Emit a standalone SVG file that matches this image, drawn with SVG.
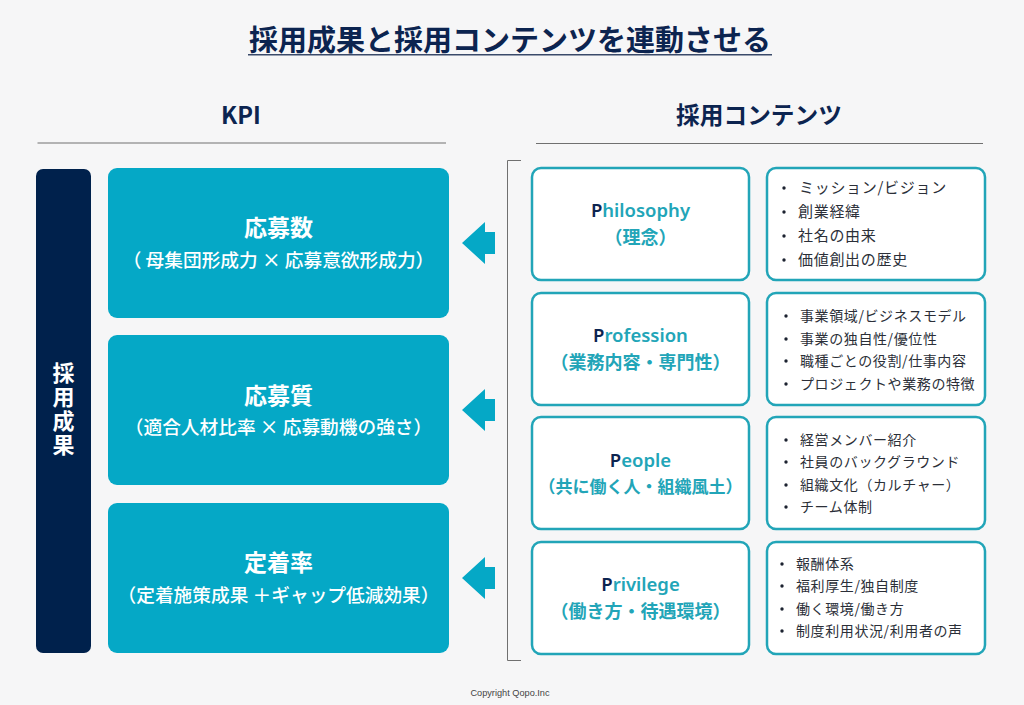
<svg xmlns="http://www.w3.org/2000/svg" width="1024" height="705" viewBox="0 0 1024 705">
<style>
text{font-family:"Noto Sans CJK JP","Noto Sans",sans-serif}
.navy{fill:#00214c}
.h{font-size:23.700px;font-weight:700;text-anchor:middle;fill:#0c2450}
.kpi{fill:#05a8c6}
.kt{fill:#fff;font-weight:700;text-anchor:middle}
.ks{font-size:18.700px;font-weight:500}
.pb{fill:#fff;stroke:#22a5b8;stroke-width:2.5}
.pt{font-size:18.500px;font-weight:600;text-anchor:middle;fill:#22a5b8;font-family:"Noto Sans","Noto Sans CJK JP",sans-serif}
.ps{font-size:18px;font-weight:700;text-anchor:middle;fill:#22a5b8}
.p1{fill:#0c2450}
.li{font-size:14px;fill:#2b2f38;letter-spacing:.6px}
.lw{font-size:15px;letter-spacing:.7px}
.bu{fill:#1c2230}
.rule{stroke:#707070;stroke-width:1;fill:none}
.ar{fill:#05a8c6}
</style>
<rect width="1024" height="705" fill="#f6f6f7"/>
<g id="title">
<text x="510" y="51" font-size="29" font-weight="700" text-anchor="middle" fill="#0c2450">採用成果と採用コンテンツを連動させる</text>
<rect x="248" y="54" width="524" height="1.500" fill="#3a4a6a"/>
</g>
<g id="kpi-head"><text class="h" x="241" y="124">KPI</text><path class="rule" d="M37.500 143H446"/></g>
<g id="content-head"><text class="h" x="759" y="124">採用コンテンツ</text><path class="rule" d="M536 143.500H983"/></g>
<g id="result"><rect class="navy" x="36" y="169" width="55" height="484" rx="7"/>
<text font-size="22" font-weight="700" fill="#fff" x="63.500" y="362" style="writing-mode:vertical-rl;letter-spacing:2px">採用成果</text></g>
<g id="kpi1"><rect class="kpi" x="108" y="168" width="341" height="150" rx="9"/><text class="kt" font-size="23" x="278.500" y="236">応募数</text><text class="kt ks" x="278.500" y="267">（ 母集団形成力 × 応募意欲形成力）</text></g>
<g id="kpi2"><rect class="kpi" x="108" y="335" width="341" height="150" rx="9"/><text class="kt" font-size="23" x="278.500" y="404">応募質</text><text class="kt ks" x="278.500" y="434">（適合人材比率 × 応募動機の強さ）</text></g>
<g id="kpi3"><rect class="kpi" x="108" y="503" width="341" height="150" rx="9"/><text class="kt" font-size="23" x="278.500" y="571">定着率</text><text class="kt ks" x="278.500" y="602">（定着施策成果 ＋ギャップ低減効果）</text></g>
<g id="connectors">
<path class="ar" d="M462 243L485 222V232H495V254H485V264Z"/>
<path class="ar" d="M462 410L485 389V399H495V421H485V431Z"/>
<path class="ar" d="M462 578L485 557V567H495V589H485V599Z"/>
<path class="rule" d="M521 160.500H507.500V660.500H521"/>
</g>
<g id="philosophy"><rect class="pb" x="532" y="168" width="217" height="112" rx="9"/><text class="pt" x="640.500" y="217"><tspan class="p1">P</tspan>hilosophy</text><text class="ps" x="640.500" y="244">（理念）</text></g>
<g id="philosophy-list"><rect class="pb" x="767" y="168" width="218" height="112" rx="9"/>
<circle class="bu" cx="784" cy="188" r="1.700"/><text class="li lw" x="799" y="193">ミッション/ビジョン</text>
<circle class="bu" cx="784" cy="212" r="1.700"/><text class="li lw" x="798" y="217">創業経緯</text>
<circle class="bu" cx="784" cy="236" r="1.700"/><text class="li lw" x="798" y="241">社名の由来</text>
<circle class="bu" cx="784" cy="260" r="1.700"/><text class="li lw" x="798" y="265">価値創出の歴史</text></g>
<g id="profession"><rect class="pb" x="532" y="293" width="217" height="112" rx="9"/><text class="pt" x="640.500" y="342"><tspan class="p1">P</tspan>rofession</text><text class="ps" x="640.500" y="369">（業務内容・専門性）</text></g>
<g id="profession-list"><rect class="pb" x="767" y="293" width="218" height="112" rx="9"/>
<circle class="bu" cx="786" cy="316" r="1.700"/><text class="li" x="800" y="321">事業領域/ビジネスモデル</text>
<circle class="bu" cx="786" cy="339" r="1.700"/><text class="li" x="800" y="344">事業の独自性/優位性</text>
<circle class="bu" cx="786" cy="361" r="1.700"/><text class="li" x="800" y="366">職種ごとの役割/仕事内容</text>
<circle class="bu" cx="786" cy="384" r="1.700"/><text class="li" x="800" y="389">プロジェクトや業務の特徴</text></g>
<g id="people"><rect class="pb" x="532" y="417" width="217" height="112" rx="9"/><text class="pt" x="640.500" y="467"><tspan class="p1">P</tspan>eople</text><text class="ps" style="font-size:17px" x="640.500" y="493">（共に働く人・組織風土）</text></g>
<g id="people-list"><rect class="pb" x="767" y="417" width="218" height="112" rx="9"/>
<circle class="bu" cx="786" cy="440" r="1.700"/><text class="li" x="800" y="445">経営メンバー紹介</text>
<circle class="bu" cx="786" cy="462" r="1.700"/><text class="li" x="800" y="467">社員のバックグラウンド</text>
<circle class="bu" cx="786" cy="485" r="1.700"/><text class="li" x="800" y="490">組織文化（カルチャー）</text>
<circle class="bu" cx="786" cy="507" r="1.700"/><text class="li" x="800" y="512">チーム体制</text></g>
<g id="privilege"><rect class="pb" x="532" y="542" width="217" height="112" rx="9"/><text class="pt" x="640.500" y="591"><tspan class="p1">P</tspan>rivilege</text><text class="ps" x="640.500" y="618">（働き方・待遇環境）</text></g>
<g id="privilege-list"><rect class="pb" x="767" y="542" width="218" height="112" rx="9"/>
<circle class="bu" cx="782" cy="564" r="1.700"/><text class="li" x="796" y="569">報酬体系</text>
<circle class="bu" cx="782" cy="586" r="1.700"/><text class="li" x="796" y="591">福利厚生/独自制度</text>
<circle class="bu" cx="782" cy="609" r="1.700"/><text class="li" x="796" y="614">働く環境/働き方</text>
<circle class="bu" cx="782" cy="631" r="1.700"/><text class="li" x="796" y="636">制度利用状況/利用者の声</text></g>
<text x="510" y="696" font-size="9.200" text-anchor="middle" fill="#444" style="font-family:'Liberation Sans',sans-serif">Copyright Qopo.Inc</text>
</svg>
